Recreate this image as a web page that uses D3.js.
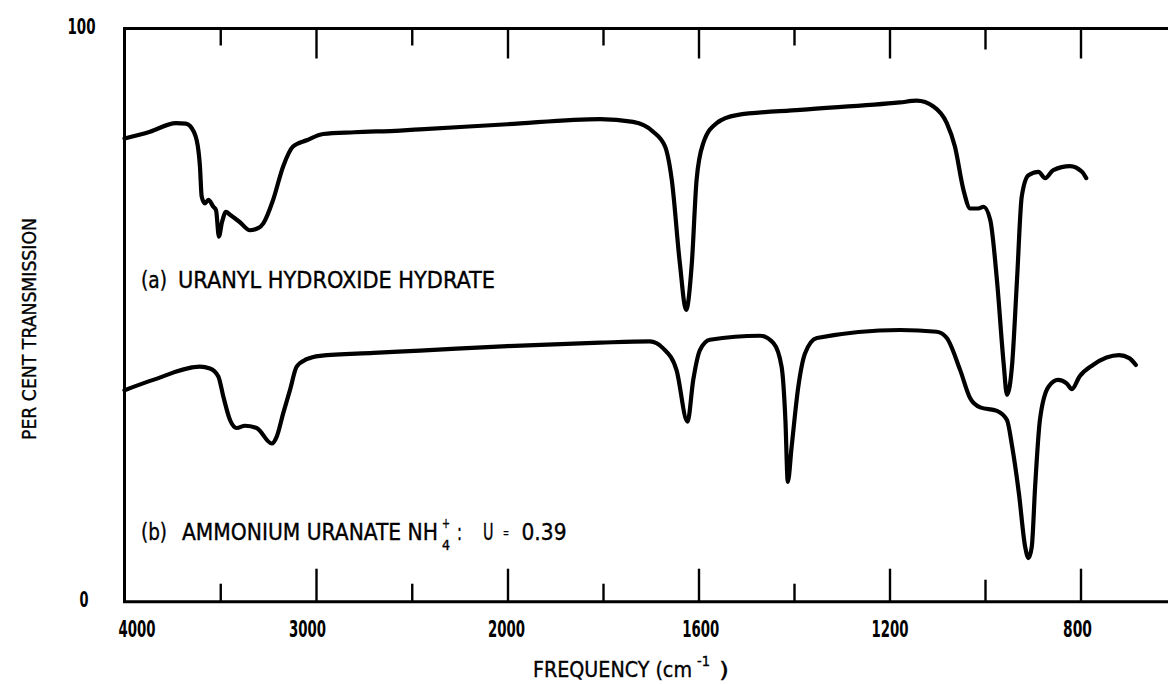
<!DOCTYPE html>
<html>
<head>
<meta charset="utf-8">
<script src="https://cdn.jsdelivr.net/npm/d3@7"></script>
<style>
  html, body { margin: 0; padding: 0; background: #fff; }
  svg { display: block; }
  text { font-family: 'Liberation Sans Narrow', 'DejaVu Sans Condensed', 'Roboto Condensed', sans-serif; fill: #000; }
  .cap { stroke: #000; stroke-width: 0.35px; }
</style>
</head>
<body>
<svg id="chart" width="1168" height="684"></svg>
<script>
// ---- data -----------------------------------------------------------
// frequency axis ticks (cm^-1)
const majorTicks  = [3000, 2000, 1600, 1200, 800];
const minorTicks  = [3500, 2500, 1800, 1400];
const mediumTicks = [1000];
const tickLabels  = [4000, 3000, 2000, 1600, 1200, 800];
const percentLabels = [0, 100];

// (a) uranyl hydroxide hydrate: frequency (cm^-1) and per cent transmission
const uranylFreq = [4000, 3867, 3731, 3680, 3658, 3623, 3606, 3597, 3580, 3562, 3536, 3522, 3507, 3491,
  3470, 3449, 3397, 3345, 3300, 3275, 3224, 3172, 3120, 3049, 2962, 2800, 2561, 2457, 2000, 1806,
  1737, 1695, 1670, 1656, 1639, 1626, 1614, 1604, 1590, 1562, 1520, 1387, 1178, 1143, 1108, 1080,
  1063, 1045, 1031, 1014, 1003, 989, 975, 961, 954, 943, 933, 923, 909, 888, 874, 857, 822, 797, 788];
const uranylTrans = [80.8, 82.0, 83.5, 83.4, 83.0, 80.5, 75.9, 70.7, 69.5, 70.1, 68.9, 68.3, 63.7, 66.2,
  68.0, 67.5, 66.2, 64.8, 65.2, 66.0, 70.1, 75.9, 79.4, 80.5, 81.6, 81.9, 82.2, 82.4, 83.3, 84.2,
  83.7, 82.0, 79.4, 73.6, 59.0, 50.9, 59.0, 73.6, 80.0, 83.5, 84.9, 85.8, 87.1, 87.4, 86.4, 83.5,
  79.4, 71.8, 68.6, 68.6, 68.9, 66.6, 56.1, 41.6, 36.1, 41.6, 56.1, 70.7, 74.4, 75.0, 73.9, 75.3, 76.0, 75.0, 73.9];

// (b) ammonium uranate: frequency (cm^-1) and per cent transmission
const ammoniumFreq = [4000, 3850, 3606, 3554, 3510, 3484, 3449, 3414, 3371, 3310, 3231, 3205, 3171, 3136,
  3101, 3049, 2979, 2700, 2457, 2000, 1806, 1702, 1674, 1646, 1623, 1611, 1597, 1576, 1471, 1443, 1426,
  1418, 1413, 1405, 1391, 1377, 1352, 1178, 1101, 1080, 1052, 1031, 1010, 975, 954, 943, 929, 916,
  909, 902, 895, 885, 867, 847, 829, 818, 802, 774, 719, 698, 684];
const ammoniumTrans = [36.9, 38.7, 41.0, 40.7, 39.3, 35.8, 31.7, 30.3, 30.7, 30.3, 27.6, 28.8, 32.9, 36.9,
  41.0, 42.3, 42.9, 43.4, 43.8, 44.6, 45.2, 45.4, 44.2, 40.4, 31.4, 38.7, 43.9, 45.7, 46.4, 45.1, 41.0,
  31.7, 20.9, 27.0, 37.5, 43.3, 46.0, 47.4, 47.1, 46.0, 40.4, 35.5, 33.9, 33.3, 31.7, 27.0, 18.9, 9.6,
  7.6, 9.6, 20.1, 31.7, 37.5, 38.7, 38.1, 37.1, 39.3, 41.3, 43.0, 42.5, 41.3];

// ---- layout ---------------------------------------------------------
const svg = d3.select("#chart");
const plotLeft = 124.5, plotTop = 28.5, plotBottom = 601.7;
const pxPerWnHigh = 0.1915;   // 4000-2000 cm^-1 section
const pxPerWnLow  = 0.4775;   // below 2000 cm^-1 (expanded section)

const x = d3.scaleLinear()
  .domain([4000, 2000, 500])
  .range([plotLeft, plotLeft + 2000 * pxPerWnHigh, plotLeft + 2000 * pxPerWnHigh + 1500 * pxPerWnLow]);
const y = d3.scaleLinear().domain([0, 100]).range([plotBottom, plotTop]);

const ink = "#000";
const numFont = "'Liberation Sans Narrow','DejaVu Sans Condensed',sans-serif";

// ---- frame ----------------------------------------------------------
svg.append("path")
  .attr("d", `M${x(500)},${y(100)} H${x(4000)} V${y(0)} H${x(500)}`)
  .attr("fill", "none").attr("stroke", ink).attr("stroke-width", 3);

// ---- tick marks (pointing into the plot, top and bottom) -------------
function tickGroup(axisFn, values, len, yPos) {
  const ax = axisFn(x).tickValues(values).tickSizeInner(-len).tickSizeOuter(0).tickFormat("");
  const g = svg.append("g").attr("transform", `translate(0,${yPos})`).call(ax);
  g.select(".domain").remove();
  g.selectAll(".tick line").attr("stroke", ink).attr("stroke-width", 2.4);
  return g;
}
tickGroup(d3.axisBottom, majorTicks, 33, y(0));
tickGroup(d3.axisBottom, minorTicks, 18, y(0));
tickGroup(d3.axisBottom, mediumTicks, 22, y(0));
tickGroup(d3.axisTop, majorTicks, 30, y(100));
tickGroup(d3.axisTop, minorTicks, 17, y(100));
tickGroup(d3.axisTop, mediumTicks, 21, y(100));

// ---- frequency tick labels ------------------------------------------
const labelShift = {4000: 12, 3000: -9, 2000: -1.5, 1600: 1.7, 1200: 0, 800: -3.5};
const labelAxis = d3.axisBottom(x).tickValues(tickLabels).tickSize(0).tickFormat(d3.format("d"));
const lg = svg.append("g").attr("transform", `translate(0,${y(0)})`).call(labelAxis);
lg.select(".domain").remove();
lg.selectAll(".tick text")
  .attr("y", 35).attr("dy", null)
  .attr("dx", d => labelShift[d] || 0)
  .attr("font-size", 23).attr("font-weight", "bold")
  .attr("font-family", numFont)
  .attr("textLength", d => String(d).length === 4 ? 37 : 29)
  .attr("lengthAdjust", "spacingAndGlyphs")
  .attr("fill", ink);

// ---- per cent labels -------------------------------------------------
const pAxis = d3.axisLeft(y).tickValues(percentLabels).tickSize(0).tickFormat(d3.format("d"));
const pg = svg.append("g").attr("transform", `translate(${plotLeft},0)`).call(pAxis);
pg.select(".domain").remove();
pg.selectAll(".tick text")
  .attr("x", d => d === 100 ? -29 : -36)
  .attr("dy", 5)
  .attr("font-size", 22).attr("font-weight", "bold")
  .attr("font-family", numFont)
  .attr("textLength", d => d === 100 ? 28 : 9)
  .attr("lengthAdjust", "spacingAndGlyphs")
  .attr("fill", ink);

// ---- text helper -----------------------------------------------------
function label(txt, xPos, yPos, size, len, extra) {
  const t = svg.append("text").attr("class", "cap")
    .attr("x", xPos).attr("y", yPos)
    .attr("font-size", size).text(txt);
  if (len) t.attr("textLength", len).attr("lengthAdjust", "spacingAndGlyphs");
  if (extra) extra(t);
  return t;
}

// ---- axis titles -----------------------------------------------------
label("PER CENT TRANSMISSION", 0, 0, 20, 222, t =>
  t.attr("text-anchor", "middle").attr("transform", "translate(36,329) rotate(-90)"));
label("FREQUENCY (cm", 533, 677, 22, 159);
label("-1", 697, 666, 14, 13);
label(")", 719, 677, 22, 10);

// ---- spectrum traces -------------------------------------------------
const line = d3.line()
  .x(d => x(d[0]))
  .y(d => y(d[1]))
  .curve(d3.curveMonotoneX);

const traces = [
  d3.zip(uranylFreq, uranylTrans),
  d3.zip(ammoniumFreq, ammoniumTrans)
];
svg.selectAll("path.trace").data(traces).join("path")
  .attr("class", "trace")
  .attr("d", d => line(d.slice().sort((a, b) => b[0] - a[0])))
  .attr("fill", "none").attr("stroke", ink)
  .attr("stroke-width", 4.2)
  .attr("stroke-linejoin", "round").attr("stroke-linecap", "round");

// ---- trace captions --------------------------------------------------
label("(a)", 141, 288, 23, 26);
label("URANYL HYDROXIDE HYDRATE", 178, 288, 23, 317);

label("(b)", 141, 540, 23, 26);
label("AMMONIUM URANATE NH", 182, 540, 23, 256);
label("4", 442, 550, 14, 8);
label("+", 442, 528, 14, 8);
label(":", 457, 540, 23, 5);
label("U", 483, 540, 23, 10.5);
label("=", 503, 537, 13, 6);
label("0.39", 521.5, 540, 23, 45);
</script>
</body>
</html>
